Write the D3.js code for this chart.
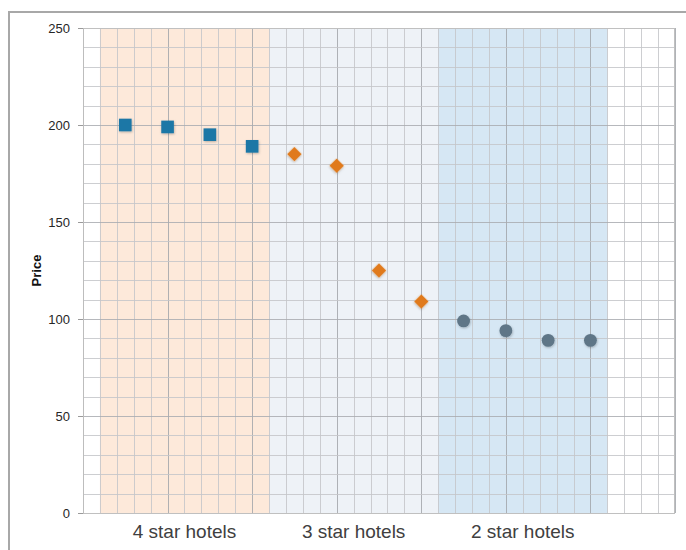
<!DOCTYPE html>
<html>
<head>
<meta charset="utf-8">
<script src="https://cdn.jsdelivr.net/npm/d3@7"></script>
<style>
  html, body { margin: 0; padding: 0; background: #fff; }
  svg { display: block; font-family: "Liberation Sans", Arial, sans-serif; }
</style>
</head>
<body>
<svg id="chart" width="686" height="550"></svg>
<script>
// Hotel price groups
const categories = ["4 star hotels", "3 star hotels", "2 star hotels"];
const bandColors = ["#fde9da", "#eef2f7", "#d6e7f4"];

// Prices, four hotels per group
const fourStar = [200, 199, 195, 189];
const threeStar = [185, 179, 125, 109];
const twoStar = [99, 94, 89, 89];

const yTicks = [0, 50, 100, 150, 200, 250];
const yLabel = "Price";

const svg = d3.select("#chart");
const W = 686, H = 550;
const m = { left: 83, right: 11, top: 28, bottom: 37 };
const iw = W - m.left - m.right, ih = H - m.top - m.bottom;

// outer frame
svg.append("rect")
  .attr("x", 9).attr("y", 12).attr("width", W).attr("height", H)
  .attr("fill", "none").attr("stroke", "#a8a8a8").attr("stroke-width", 2);

const x = d3.scaleLinear().domain([0, 14]).range([0, iw]);
const y = d3.scaleLinear().domain([0, 250]).range([ih, 0]);

const g = svg.append("g").attr("transform", `translate(${m.left},${m.top})`);

// background bands, one per category (4 units wide, starting at 0.4)
const bandW = 4, bandOffset = 0.4;
g.selectAll("rect.band").data(categories).join("rect")
  .attr("class", "band")
  .attr("x", (d, i) => x(bandOffset + i * bandW))
  .attr("width", x(bandW) - x(0))
  .attr("y", 0).attr("height", ih)
  .attr("fill", (d, i) => bandColors[i]);

// grid: minor every 0.4 on x, every 10 on y; darker lines at major steps
const xMinor = d3.range(0, 14.0001, 0.4);
g.selectAll("line.xg").data(xMinor).join("line")
  .attr("class", "xg")
  .attr("x1", d => Math.round(x(d)) + 0.5).attr("x2", d => Math.round(x(d)) + 0.5)
  .attr("y1", 0).attr("y2", ih)
  .attr("stroke", d => (Math.abs(d / 2 - Math.round(d / 2)) < 1e-6 ? "#a2a6aa" : "#c4c6c9"))
  .attr("stroke-opacity", 0.85)
  .attr("stroke-width", 1);

const yMinor = d3.range(0, 250.001, 10);
g.selectAll("line.yg").data(yMinor).join("line")
  .attr("class", "yg")
  .attr("x1", 0).attr("x2", iw)
  .attr("y1", d => Math.round(y(d)) + 0.5).attr("y2", d => Math.round(y(d)) + 0.5)
  .attr("stroke", d => (d % 50 === 0 ? "#a9acb0" : "#c4c6c9"))
  .attr("stroke-opacity", 0.85)
  .attr("stroke-width", 1);

// plot area border
g.append("rect").attr("x", 0.5).attr("y", 0.5).attr("width", iw - 1).attr("height", ih)
  .attr("fill", "none").attr("stroke", "#c0c0c0");

// y axis
const yAxis = d3.axisLeft(y).tickValues(yTicks).tickSize(5).tickPadding(8);
const ya = g.append("g").call(yAxis);
ya.select(".domain").attr("stroke", "#bdbdbd");
ya.selectAll(".tick line").attr("stroke", "#9a9a9a");
ya.selectAll(".tick text").attr("fill", "#262626").style("font-size", "13px")
  .style("font-family", "'Liberation Sans', Arial, sans-serif");

// y axis title
svg.append("text")
  .attr("transform", `translate(41,${m.top + ih / 2}) rotate(-90)`)
  .attr("text-anchor", "middle")
  .attr("font-size", 13).attr("font-weight", "bold").attr("fill", "#111")
  .text(yLabel);

// category labels under each band
g.selectAll("text.cat").data(categories).join("text")
  .attr("class", "cat")
  .attr("x", (d, i) => x(bandOffset + i * bandW + bandW / 2))
  .attr("y", ih + 25)
  .attr("text-anchor", "middle")
  .attr("font-size", 19).attr("fill", "#404040")
  .text(d => d);

// soft shadow under markers
const defs = svg.append("defs");
const f = defs.append("filter").attr("id", "shadow")
  .attr("x", "-50%").attr("y", "-50%").attr("width", "200%").attr("height", "200%");
f.append("feDropShadow").attr("dx", 0.6).attr("dy", 1).attr("stdDeviation", 0.9)
  .attr("flood-color", "#000").attr("flood-opacity", 0.25);

const pts4 = fourStar.map((v, i) => ({ x: i + 1, v }));
const pts3 = threeStar.map((v, i) => ({ x: fourStar.length + i + 1, v }));
const pts2 = twoStar.map((v, i) => ({ x: fourStar.length + threeStar.length + i + 1, v }));

const sq = d3.symbol().type(d3.symbolSquare).size(160);
const dm = d3.symbol().type(d3.symbolSquare).size(105);
const ci = d3.symbol().type(d3.symbolCircle).size(130);

g.selectAll("path.s4").data(pts4).join("path")
  .attr("class", "s4")
  .attr("d", sq)
  .attr("transform", d => `translate(${x(d.x)},${y(d.v)})`)
  .attr("fill", "#1f77a6").attr("filter", "url(#shadow)");

g.selectAll("path.s3").data(pts3).join("path")
  .attr("class", "s3")
  .attr("d", dm)
  .attr("transform", d => `translate(${x(d.x)},${y(d.v)}) rotate(45)`)
  .attr("fill", "#e07a1e").attr("filter", "url(#shadow)");

g.selectAll("path.s2").data(pts2).join("path")
  .attr("class", "s2")
  .attr("d", ci)
  .attr("transform", d => `translate(${x(d.x)},${y(d.v)})`)
  .attr("fill", "#5f7687").attr("filter", "url(#shadow)");
</script>
</body>
</html>
